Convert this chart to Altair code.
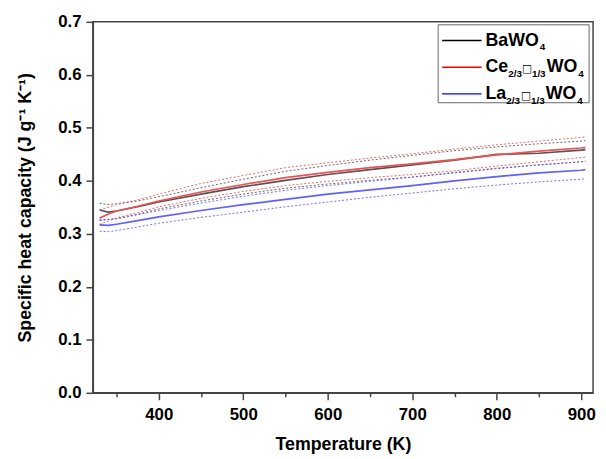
import altair as alt
import pandas as pd

# ---------------- data ----------------
temperature = [330, 340, 350, 375, 400, 450, 500, 550, 600, 650, 700, 750, 800, 850, 900, 905]

bawo4      = [0.345, 0.341, 0.343, 0.351, 0.360, 0.375, 0.389, 0.401, 0.412, 0.421, 0.430, 0.439, 0.450, 0.452, 0.458, 0.459]
bawo4_hi   = [0.358, 0.355, 0.357, 0.362, 0.370, 0.387, 0.403, 0.418, 0.429, 0.439, 0.448, 0.457, 0.464, 0.470, 0.475, 0.476]
bawo4_lo   = [0.325, 0.327, 0.329, 0.337, 0.347, 0.362, 0.375, 0.386, 0.394, 0.401, 0.407, 0.415, 0.423, 0.430, 0.436, 0.437]

ce         = [0.330, 0.337, 0.343, 0.352, 0.362, 0.379, 0.393, 0.406, 0.416, 0.425, 0.432, 0.440, 0.449, 0.456, 0.462, 0.463]
ce_hi      = [0.345, 0.350, 0.355, 0.364, 0.375, 0.395, 0.410, 0.425, 0.434, 0.443, 0.451, 0.460, 0.468, 0.475, 0.482, 0.483]
ce_lo      = [0.318, 0.324, 0.330, 0.340, 0.351, 0.367, 0.380, 0.391, 0.399, 0.406, 0.412, 0.419, 0.428, 0.436, 0.444, 0.445]

la         = [0.317, 0.316, 0.318, 0.325, 0.332, 0.344, 0.355, 0.365, 0.375, 0.383, 0.391, 0.400, 0.408, 0.415, 0.420, 0.421]
la_hi      = [0.327, 0.327, 0.328, 0.336, 0.344, 0.358, 0.371, 0.382, 0.391, 0.399, 0.407, 0.416, 0.424, 0.430, 0.436, 0.437]
la_lo      = [0.305, 0.304, 0.306, 0.313, 0.320, 0.331, 0.341, 0.351, 0.360, 0.369, 0.377, 0.385, 0.392, 0.398, 0.403, 0.404]

groups = ["BaWO4", "Ce", "La"]
solid_colors = ["#000000", "#ff0000", "#0000ff"]
dotted_colors = ["#555555", "#f05050", "#6060ff"]

x_ticks = [350, 400, 450, 500, 550, 600, 650, 700, 750, 800, 850, 900]
y_ticks = [0.0, 0.05, 0.1, 0.15, 0.2, 0.25, 0.3, 0.35, 0.4, 0.45, 0.5, 0.55, 0.6, 0.65, 0.7]

series = [
    ("BaWO4", "mean", bawo4), ("BaWO4", "hi", bawo4_hi), ("BaWO4", "lo", bawo4_lo),
    ("Ce", "mean", ce), ("Ce", "hi", ce_hi), ("Ce", "lo", ce_lo),
    ("La", "mean", la), ("La", "hi", la_hi), ("La", "lo", la_lo),
]
rows = []
for g, kind, vals in series:
    for t, v in zip(temperature, vals):
        rows.append({"T": t, "value": v, "group": g, "kind": kind, "series": g + "_" + kind})
df = pd.DataFrame(rows)

FONT = "Liberation Sans"
AX = "#444444"

x_enc = alt.X(
    "T:Q",
    scale=alt.Scale(domain=[322, 914], nice=False, zero=False),
    axis=alt.Axis(
        title="Temperature (K)", values=x_ticks,
        labelExpr="datum.value % 100 === 0 ? datum.label : ''",
        tickSize={"condition": {"test": "datum.value % 100 === 0", "value": 7}, "value": 4},
        grid=False, labelFont=FONT, labelFontSize=17, labelFontWeight="bold", labelColor="black",
        titleFont=FONT, titleFontSize=18, titleFontWeight="bold", titleColor="black",
        domainColor=AX, domainWidth=1.5, tickColor=AX, tickWidth=1.5,
        labelPadding=7, titlePadding=13, labelFlush=False,
    ),
)
y_enc = alt.Y(
    "value:Q",
    scale=alt.Scale(domain=[0, 0.7], nice=False, zero=False),
    axis=alt.Axis(
        title="Specific heat capacity (J g\u207b\u00b9 K\u207b\u00b9)", values=y_ticks, format=".1f",
        labelExpr="round(datum.value * 100) % 10 === 0 ? datum.label : ''",
        tickSize={"condition": {"test": "round(datum.value * 100) % 10 === 0", "value": 7}, "value": 4},
        grid=False, labelFont=FONT, labelFontSize=17, labelFontWeight="bold", labelColor="black",
        titleFont=FONT, titleFontSize=18, titleFontWeight="bold", titleColor="black",
        domainColor=AX, domainWidth=1.5, tickColor=AX, tickWidth=1.5,
        labelPadding=5, titlePadding=24, labelFlush=False,
    ),
)

base = alt.Chart(df)
dotted = base.transform_filter("datum.kind !== 'mean'").mark_line(
    strokeWidth=1, strokeDash=[2, 2], opacity=0.9
).encode(
    x=x_enc, y=y_enc,
    color=alt.Color("group:N", scale=alt.Scale(domain=groups, range=dotted_colors), legend=None),
    detail="series:N",
)
solid = base.transform_filter("datum.kind === 'mean'").mark_line(strokeWidth=1.7).encode(
    x="T:Q", y="value:Q",
    color=alt.Color("group:N", scale=alt.Scale(domain=groups, range=solid_colors), legend=None),
    detail="series:N",
)

# ---------------- custom legend (layout only) ----------------
dummy = pd.DataFrame({"k": [0]})
legend = [
    alt.Chart(dummy).mark_rect(fill="white", stroke="#666666", strokeWidth=1).encode(
        x=alt.value(350), x2=alt.value(503), y=alt.value(3), y2=alt.value(82)
    )
]
row_y = [19, 46, 73]
for yy, c in zip(row_y, solid_colors):
    legend.append(alt.Chart(dummy).mark_rule(color=c, strokeWidth=1.5).encode(
        x=alt.value(354), x2=alt.value(394), y=alt.value(yy)))

def txt(s, x, y, size, font=FONT, weight="bold"):
    return alt.Chart(dummy).mark_text(
        text=s, align="left", baseline="middle", font=font, fontSize=size,
        fontWeight=weight, color="black"
    ).encode(x=alt.value(x), y=alt.value(y))

label_pieces = [
    # (text, x, row, kind)
    ("BaWO", 398, 0, "main"), ("4", 453, 0, "sub"),
    ("Ce", 398, 1, "main"), ("2/3", 421, 1, "sub"), ("\u25a1", 435, 1, "box"),
    ("1/3", 445, 1, "sub"), ("WO", 460, 1, "main"), ("4", 492, 1, "sub"),
    ("La", 398, 2, "main"), ("2/3", 419, 2, "sub"), ("\u25a1", 434, 2, "box"),
    ("1/3", 444, 2, "sub"), ("WO", 459, 2, "main"), ("4", 491, 2, "sub"),
]
for s, x, r, kind in label_pieces:
    if kind == "main":
        legend.append(txt(s, x, row_y[r], 18))
    elif kind == "sub":
        legend.append(txt(s, x, row_y[r] + 7, 10))
    else:
        legend.append(txt(s, x, row_y[r] + 2, 11, font="DejaVu Sans", weight="normal"))

chart = alt.layer(dotted, solid, *legend).properties(
    width=507, height=376,
    autosize=alt.AutoSizeParams(type="none"),
    padding={"left": 86, "top": 11, "right": 5, "bottom": 60},
    background="white",
).configure_view(stroke=AX, strokeWidth=1.5)

chart.save("out.html", embed_options={"renderer": "svg", "actions": False})
